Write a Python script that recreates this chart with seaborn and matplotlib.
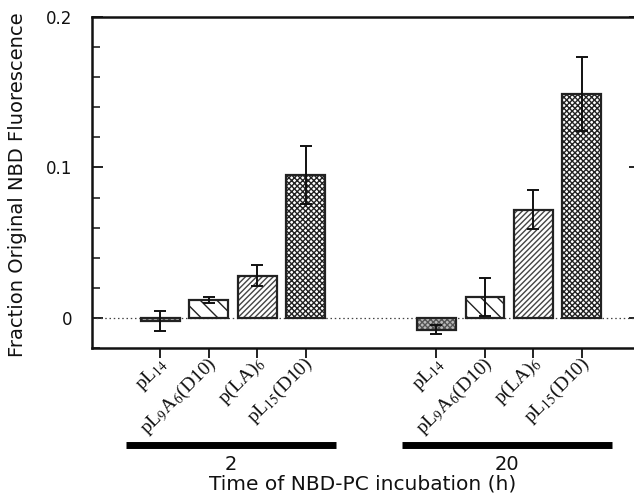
import numpy as np
import pandas as pd
import matplotlib
matplotlib.use("Agg")
import matplotlib.pyplot as plt
import matplotlib.transforms as mtransforms
from matplotlib.ticker import MultipleLocator
import seaborn as sns

# Peptide constructs and incubation times
peptides = ["pL$_{14}$", "pL$_9$A$_6$(D10)", "p(LA)$_6$", "pL$_{15}$(D10)"]
times = ["2", "20"]

# Fraction of original NBD fluorescence (mean) and error, per time group
values_2h = [-0.002, 0.012, 0.028, 0.095]
errors_2h = [0.0065, 0.002, 0.007, 0.019]
values_20h = [-0.008, 0.014, 0.072, 0.149]
errors_20h = [0.003, 0.0125, 0.013, 0.0245]

sns.set_theme(style="ticks")
plt.rcParams["font.family"] = ["DejaVu Sans"]
plt.rcParams["mathtext.fontset"] = "stix"
plt.rcParams["hatch.linewidth"] = 1.0

group_gap = 5.7
pos_2h = np.arange(len(peptides), dtype=float)
pos_20h = pos_2h + group_gap

df = pd.DataFrame({
    "pos": np.concatenate([pos_2h, pos_20h]),
    "value": values_2h + values_20h,
    "err": errors_2h + errors_20h,
    "peptide": peptides * 2,
    "time": [times[0]] * 4 + [times[1]] * 4,
})

fig = plt.figure(figsize=(6.34, 4.94), dpi=100)
ax = fig.add_axes([92 / 634, 146 / 494, 548 / 634, 331 / 494])

sns.barplot(data=df, x="pos", y="value", native_scale=True, width=0.8,
            color="white", errorbar=None, ax=ax, zorder=2)

hatches = ["xxxxxx", "\\\\", "//////", "xxxxxx"]
hatch_colors = ["#555555", "#222222", "#444444", "#222222"]
faces = ["#bbbbbb", "white", "white", "white"]
for i, patch in enumerate(ax.patches):
    k = i % 4
    patch.set_hatch(hatches[k])
    patch.set_facecolor(faces[k])
    patch.set_edgecolor(hatch_colors[k])
    patch.set_linewidth(0)

# Dark outlines over the hatched fills
sns.barplot(data=df, x="pos", y="value", native_scale=True, width=0.8,
            fill=False, color="#222222", linewidth=1.6, errorbar=None,
            ax=ax, zorder=3)
for patch in ax.patches[8:]:
    patch.set_edgecolor("#222222")
    patch.set_facecolor("none")
    patch.set_linewidth(1.6)

ax.errorbar(df["pos"], df["value"], yerr=df["err"], fmt="none",
            ecolor="#111111", elinewidth=1.4, capsize=4.5, capthick=1.4,
            zorder=4)

ax.axhline(0, color="#444444", lw=0.9, ls=(0, (1.2, 2.2)), zorder=1)

ax.set_xlim(-1.41, 9.9)
ax.set_ylim(-0.02, 0.2)

ax.yaxis.set_minor_locator(MultipleLocator(0.02))
ax.set_yticks([0, 0.1, 0.2])
ax.set_yticklabels(["0", "0.1", "0.2"], fontsize=12)
ax.tick_params(axis="y", which="major", direction="in", length=8, width=1.3,
               right=True, pad=14, colors="#111111")
ax.tick_params(axis="y", which="minor", direction="in", length=5.5,
               width=1.1, right=False, left=True, colors="#111111")

ax.set_xticks(np.concatenate([pos_2h, pos_20h]))
ax.set_xticklabels(peptides * 2, rotation=45, ha="right", va="center",
                   rotation_mode="anchor", fontsize=14,
                   family="Liberation Serif")
ax.tick_params(axis="x", direction="out", length=7, width=1.3, pad=2.5,
               colors="#111111")
offset = mtransforms.ScaledTranslation(5 / 100, 0, fig.dpi_scale_trans)
for lab in ax.get_xticklabels():
    lab.set_transform(lab.get_transform() + offset)

for side in ["left", "right", "top", "bottom"]:
    ax.spines[side].set_linewidth(1.8)
    ax.spines[side].set_color("#111111")

ax.set_xlabel("")
ax.set_ylabel("")

# Group bars and time labels under the category names
trans = mtransforms.blended_transform_factory(ax.transData, ax.transAxes)
for centers, label in [(pos_2h, times[0]), (pos_20h, times[1])]:
    mid = centers.mean() - 0.04
    ax.plot([mid - 2.17, mid + 2.17], [-0.293, -0.293], color="black",
            lw=5, solid_capstyle="butt", transform=trans, clip_on=False)
    ax.text(mid, -0.353, label, transform=trans, ha="center", va="center",
            fontsize=14, color="#111111")

fig.text(363 / 634, 1 - 484 / 494, "Time of NBD-PC incubation (h)",
         ha="center", va="center", fontsize=14.5, color="#111111")
fig.text(18 / 634, 1 - 185 / 494, "Fraction Original NBD Fluorescence",
         ha="center", va="center", rotation=90, fontsize=14, color="#111111")

fig.savefig("out.png", dpi=100)
